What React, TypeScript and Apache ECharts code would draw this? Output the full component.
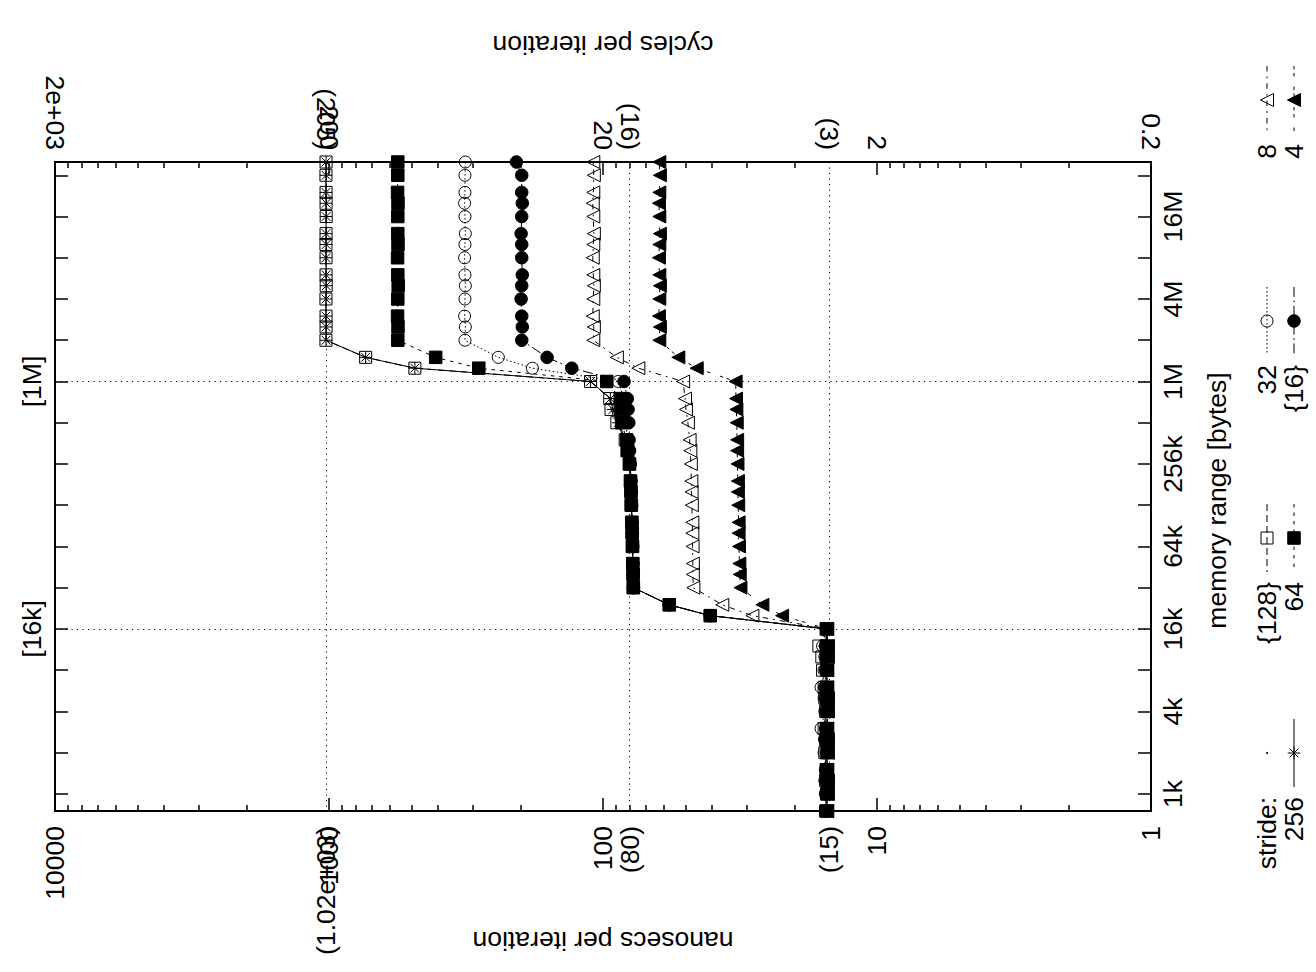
import React, { useEffect, useRef } from 'react';
import * as echarts from 'echarts';

const FONT = '"Liberation Sans", Arial, Helvetica, sans-serif';
const FS = 26.5;

// memory range sizes (KB)
const sizesKB = [0.75, 1, 1.25, 1.5, 2, 2.5, 3, 4, 5, 6, 8, 10, 12, 16, 20, 24, 32, 40, 48, 64, 80, 96, 128, 160, 192, 256, 320, 384, 512, 640, 768, 1024, 1280, 1536, 2048, 2560, 3072, 4096, 5120, 6144, 8192, 10240, 12288, 16384, 20480, 24576, 32768, 40960];

// nanoseconds per iteration, one list per stride
const stride256 = [15.3, 15.2, 15.3, 15.2, 15.3, 15.2, 15.4, 15.3, 15.2, 15.3, 15.3, 15.4, 15.3, 15.3, 40.6, 57.3, 77.4, 77.6, 77.8, 78.0, 78.2, 78.4, 78.8, 79.0, 79.3, 80.0, 81.5, 82.5, 88.0, 92.0, 94.0, 111, 486, 735, 1025, 1024, 1026, 1025, 1023, 1025, 1026, 1024, 1025, 1025, 1024, 1026, 1025, 1025];
const stride128 = [15.4, 15.3, 15.4, 15.3, 15.5, 15.4, 15.6, 15.4, 15.5, 15.6, 15.8, 15.9, 16.3, 15.3, 40.6, 57.3, 77.6, 77.8, 78.0, 78.2, 78.4, 78.6, 79.0, 79.2, 79.5, 80.2, 81.8, 83.0, 89.0, 93.5, 94.5, 111, 486, 735, 1026, 1025, 1025, 1026, 1024, 1025, 1025, 1026, 1025, 1024, 1025, 1025, 1026, 1025];
const stride64 = [15.3, 15.2, 15.2, 15.3, 15.2, 15.3, 15.3, 15.2, 15.3, 15.3, 15.2, 15.3, 15.3, 15.3, 40.6, 57.3, 77.5, 77.6, 77.8, 78.0, 78.2, 78.4, 78.8, 79.0, 79.3, 80.0, 81.2, 82.0, 85.5, 86.0, 86.5, 96.9, 284, 408, 561, 560, 562, 561, 559, 561, 562, 560, 561, 561, 560, 562, 561, 561];
const stride32 = [15.4, 15.3, 15.5, 15.4, 15.6, 15.5, 16.0, 15.5, 15.6, 16.0, 15.6, 15.5, 15.8, 15.3, 40.6, 57.3, 77.5, 77.6, 77.8, 78.0, 78.2, 78.4, 78.8, 79.0, 79.3, 80.0, 81.0, 81.5, 82.5, 83.0, 84.0, 88.0, 181, 241, 319, 318, 320, 319, 318, 319, 320, 319, 318, 319, 320, 319, 319, 318];
const stride16 = [15.3, 15.4, 15.3, 15.4, 15.3, 15.5, 15.4, 15.3, 15.4, 15.5, 15.4, 15.3, 15.4, 15.3, 40.6, 57.3, 77.4, 77.5, 77.7, 77.9, 78.1, 78.3, 78.6, 78.8, 79.0, 79.5, 80.0, 80.3, 80.5, 81.0, 81.5, 83.8, 130, 160, 198, 197, 198, 199, 198, 197, 198, 198, 199, 198, 197, 198, 198, 207];
const stride8 = [15.2, 15.1, 15.2, 15.2, 15.1, 15.2, 15.2, 15.1, 15.2, 15.2, 15.2, 15.1, 15.2, 15.2, 28.5, 36.7, 46.8, 47.0, 47.0, 47.1, 47.2, 47.2, 47.4, 47.5, 47.6, 47.8, 48.0, 48.3, 49.0, 49.8, 50.2, 51.0, 74.3, 89.0, 108.5, 108, 109, 108.5, 108, 108.5, 109, 108.5, 108, 108.5, 109, 108.5, 108, 108.5];
const stride4 = [15.2, 15.2, 15.1, 15.2, 15.2, 15.1, 15.2, 15.2, 15.1, 15.2, 15.2, 15.2, 15.1, 15.2, 22.2, 26.2, 31.5, 31.7, 31.8, 31.9, 32.0, 32.0, 32.1, 32.2, 32.2, 32.3, 32.4, 32.4, 32.5, 32.6, 32.7, 32.8, 45.5, 53.1, 62.3, 62.0, 62.5, 62.3, 62.0, 62.3, 62.5, 62.3, 62.0, 62.3, 62.5, 62.3, 62.0, 62.3];

const strideNames = ['256', '{128}', '64', '32', '{16}', '8', '4'];
const strideValues = [stride256, stride128, stride64, stride32, stride16, stride8, stride4];

// axis ticks and labels
const nsMajor = [1, 10, 100, 1000, 10000];
const nsMajorLabels = ['1', '10', '100', '1000', '10000'];
const nsMinor = [2, 3, 4, 5, 6, 7, 8, 9, 20, 30, 40, 50, 60, 70, 80, 90, 200, 300, 400, 500, 600, 700, 800, 900, 2000, 3000, 4000, 5000, 6000, 7000, 8000, 9000];
const cyclesLabels = ['0.2', '2', '20', '200', '2e+03'];
const nsMarks = [15, 80, 1025];
const nsMarkLabels = ['(15)', '(80)', '(1.02e+03)'];
const cycleMarkLabels = ['(3)', '(16)', '(205)'];
const memTicksKB = [1, 2, 4, 8, 16, 32, 64, 128, 256, 512, 1024, 2048, 4096, 8192, 16384, 32768];
const memLabelKB = [1, 4, 16, 64, 256, 1024, 4096, 16384];
const memLabels = ['1k', '4k', '16k', '64k', '256k', '1M', '4M', '16M'];
const memMarksKB = [16, 1024];
const memMarkLabels = ['[16k]', '[1M]'];

const KB = 1024;
const memMin = 0.75 * KB;
const memMax = 40960 * KB;

function labelFor(values: number[], labels: string[], v: number): string {
  for (let i = 0; i < values.length; i++) {
    if (Math.abs(Math.log(v) - Math.log(values[i])) < 1e-6) return labels[i];
  }
  return '';
}

const ASTERISK = 'path://M0,5L10,5M5,0L5,10M1.5,1.5L8.5,8.5M1.5,8.5L8.5,1.5';

type Style = { symbol: string; size: number; fill: string; dash: any; rotate: number };
const styles: Style[] = [
  { symbol: ASTERISK, size: 12.5, fill: 'none', dash: 'solid', rotate: 0 },
  { symbol: 'rect', size: 12, fill: 'none', dash: [7, 4], rotate: 0 },
  { symbol: 'rect', size: 12.5, fill: '#000', dash: [3.5, 5], rotate: 0 },
  { symbol: 'circle', size: 12, fill: 'none', dash: [1.5, 2.5], rotate: 0 },
  { symbol: 'circle', size: 12.5, fill: '#000', dash: [10, 3.5, 1.8, 3.5], rotate: 0 },
  { symbol: 'triangle', size: 13, fill: 'none', dash: [5.5, 5, 1.8, 5], rotate: 90 },
  { symbol: 'triangle', size: 13, fill: '#000', dash: [3.5, 3.5, 3.5, 10], rotate: 90 },
];

const txt = { color: '#000', fontSize: FS, fontFamily: FONT };
const nsBase = { type: 'log', logBase: 10, min: 1, max: 10000, inverse: true, gridIndex: 0, splitLine: { show: false }, minorTick: { show: false }, minorSplitLine: { show: false } };
const memBase = { type: 'log', logBase: 2, min: memMin, max: memMax, gridIndex: 0, splitLine: { show: false }, minorTick: { show: false }, minorSplitLine: { show: false } };
const border = { show: true, onZero: false, lineStyle: { color: '#000', width: 2 } };
const noLine = { show: false, onZero: false };
const dotted = { show: true, lineStyle: { color: '#000', width: 1, type: [1.2, 4.3] } };

const memTicks = memTicksKB.map((k) => k * KB);
const memLabelVals = memLabelKB.map((k) => k * KB);
const memMarkVals = memMarksKB.map((k) => k * KB);

const xAxes: any[] = [
  {
    ...nsBase, position: 'bottom', axisLine: border,
    axisTick: { show: true, inside: true, length: 13, lineStyle: { color: '#000', width: 1.5 }, customValues: nsMajor },
    axisLabel: { ...txt, show: true, customValues: nsMajor, rotate: 90, margin: 15, formatter: (v: number) => labelFor(nsMajor, nsMajorLabels, v) },
    name: 'nanosecs per iteration', nameLocation: 'middle', nameGap: 116, nameRotate: 180, nameMoveOverlap: false, nameTextStyle: txt,
  },
  {
    ...nsBase, position: 'bottom', axisLine: noLine,
    axisTick: { show: false, customValues: nsMarks },
    axisLabel: { ...txt, show: true, customValues: nsMarks, rotate: 90, margin: 15, formatter: (v: number) => labelFor(nsMarks, nsMarkLabels, v) },
    splitLine: dotted,
  },
  {
    ...nsBase, position: 'bottom', axisLine: noLine,
    axisTick: { show: true, inside: true, length: 6, lineStyle: { color: '#000', width: 1.5 }, customValues: nsMinor },
    axisLabel: { show: false },
  },
  {
    ...nsBase, position: 'top', axisLine: border,
    axisTick: { show: true, inside: true, length: 13, lineStyle: { color: '#000', width: 1.5 }, customValues: nsMajor },
    axisLabel: { ...txt, show: true, customValues: nsMajor, rotate: 90, margin: 12, formatter: (v: number) => labelFor(nsMajor, cyclesLabels, v) },
    name: 'cycles per iteration', nameLocation: 'middle', nameGap: 104, nameRotate: 180, nameMoveOverlap: false, nameTextStyle: txt,
  },
  {
    ...nsBase, position: 'top', axisLine: noLine,
    axisTick: { show: false, customValues: nsMarks },
    axisLabel: { ...txt, show: true, customValues: nsMarks, rotate: 90, margin: 12, formatter: (v: number) => labelFor(nsMarks, cycleMarkLabels, v) },
  },
  {
    ...nsBase, position: 'top', axisLine: noLine,
    axisTick: { show: true, inside: true, length: 6, lineStyle: { color: '#000', width: 1.5 }, customValues: nsMinor },
    axisLabel: { show: false },
  },
];

const yAxes: any[] = [
  {
    ...memBase, position: 'right', axisLine: border,
    axisTick: { show: true, inside: true, length: 13, lineStyle: { color: '#000', width: 1.5 }, customValues: memTicks },
    axisLabel: { ...txt, show: true, customValues: memLabelVals, rotate: 90, margin: 8, formatter: (v: number) => labelFor(memLabelVals, memLabels, v) },
    name: 'memory range [bytes]', nameLocation: 'middle', nameGap: 52, nameRotate: 90, nameMoveOverlap: false,
    nameTextStyle: { ...txt, padding: [0, 28, 0, 0] },
  },
  {
    ...memBase, position: 'left', axisLine: border,
    axisTick: { show: true, inside: true, length: 13, lineStyle: { color: '#000', width: 1.5 }, customValues: memTicks },
    axisLabel: { show: false },
  },
  {
    ...memBase, position: 'left', axisLine: noLine,
    axisTick: { show: false, customValues: memMarkVals },
    axisLabel: { ...txt, show: true, customValues: memMarkVals, rotate: 90, margin: 10, formatter: (v: number) => labelFor(memMarkVals, memMarkLabels, v) },
    splitLine: dotted,
  },
];

const series = strideValues.map((vals, si) => {
  const st = styles[si];
  return {
    type: 'line',
    name: strideNames[si],
    xAxisIndex: 0,
    yAxisIndex: 0,
    data: sizesKB.map((kb, i) => [vals[i], kb * KB]),
    symbol: st.symbol,
    symbolSize: st.size,
    symbolRotate: st.rotate,
    symbolKeepAspect: true,
    showSymbol: true,
    clip: false,
    silent: true,
    lineStyle: { color: '#000', width: 1, type: st.dash },
    itemStyle: { color: st.fill, borderColor: '#000', borderWidth: 1 },
  };
});

// legend (drawn rotated, like the rest of the page)
const rowX = [1267, 1294];
const colY = [753, 538, 321, 100];
const legendItems = [
  { text: 'stride:', row: 0, col: 0, style: -1 },
  { text: '256', row: 1, col: 0, style: 0 },
  { text: '{128}', row: 0, col: 1, style: 1 },
  { text: '64', row: 1, col: 1, style: 2 },
  { text: '32', row: 0, col: 2, style: 3 },
  { text: '{16}', row: 1, col: 2, style: 4 },
  { text: '8', row: 0, col: 3, style: 5 },
  { text: '4', row: 1, col: 3, style: 6 },
];

function markerGraphic(si: number, cx: number, cy: number): any[] {
  const st = styles[si];
  const s = { stroke: '#000', lineWidth: 1, fill: st.fill === 'none' ? 'none' : '#000' };
  const h = st.size / 2;
  if (st.symbol === ASTERISK) {
    const d = h * 0.7;
    return [
      { type: 'line', shape: { x1: cx - h, y1: cy, x2: cx + h, y2: cy }, style: { stroke: '#000', lineWidth: 1 } },
      { type: 'line', shape: { x1: cx, y1: cy - h, x2: cx, y2: cy + h }, style: { stroke: '#000', lineWidth: 1 } },
      { type: 'line', shape: { x1: cx - d, y1: cy - d, x2: cx + d, y2: cy + d }, style: { stroke: '#000', lineWidth: 1 } },
      { type: 'line', shape: { x1: cx - d, y1: cy + d, x2: cx + d, y2: cy - d }, style: { stroke: '#000', lineWidth: 1 } },
    ];
  }
  if (st.symbol === 'rect') {
    return [{ type: 'rect', shape: { x: cx - h, y: cy - h, width: st.size, height: st.size }, style: s }];
  }
  if (st.symbol === 'circle') {
    return [{ type: 'circle', shape: { cx, cy, r: h }, style: s }];
  }
  return [{ type: 'polygon', shape: { points: [[cx - h, cy], [cx + h, cy - h], [cx + h, cy + h]] }, style: s }];
}

const legendGraphics: any[] = [];
legendItems.forEach((it) => {
  const x = rowX[it.row];
  const y = colY[it.col];
  legendGraphics.push({
    type: 'text', x, y: y + 44, rotation: Math.PI / 2,
    style: { text: it.text, fill: '#000', fontSize: FS, fontFamily: FONT, align: 'right', verticalAlign: 'middle', textAlign: 'right', textVerticalAlign: 'middle' },
  });
  if (it.style < 0) {
    legendGraphics.push({ type: 'circle', shape: { cx: x, cy: y, r: 1 }, style: { fill: '#000' } });
    return;
  }
  const st = styles[it.style];
  legendGraphics.push({
    type: 'line', shape: { x1: x, y1: y - 34, x2: x, y2: y + 34 },
    style: { stroke: '#000', lineWidth: 1, lineDash: st.dash === 'solid' ? null : st.dash },
  });
  markerGraphic(it.style, x, y).forEach((g) => legendGraphics.push(g));
});

const option: any = {
  animation: false,
  backgroundColor: '#fff',
  textStyle: { fontFamily: FONT },
  grid: { left: 55, right: 165, top: 162, bottom: 161, containLabel: false, outerBoundsMode: 'none' },
  xAxis: xAxes,
  yAxis: yAxes,
  series,
  graphic: { elements: legendGraphics },
};

export default function App() {
  const ref = useRef<HTMLDivElement>(null);
  useEffect(() => {
    const chart = echarts.init(ref.current as HTMLDivElement, null, { renderer: 'svg' });
    chart.setOption(option);
    return () => chart.dispose();
  }, []);
  return <div ref={ref} style={{ position: 'absolute', left: 0, top: 0, width: 1316, height: 972, background: '#fff' }} />;
}
